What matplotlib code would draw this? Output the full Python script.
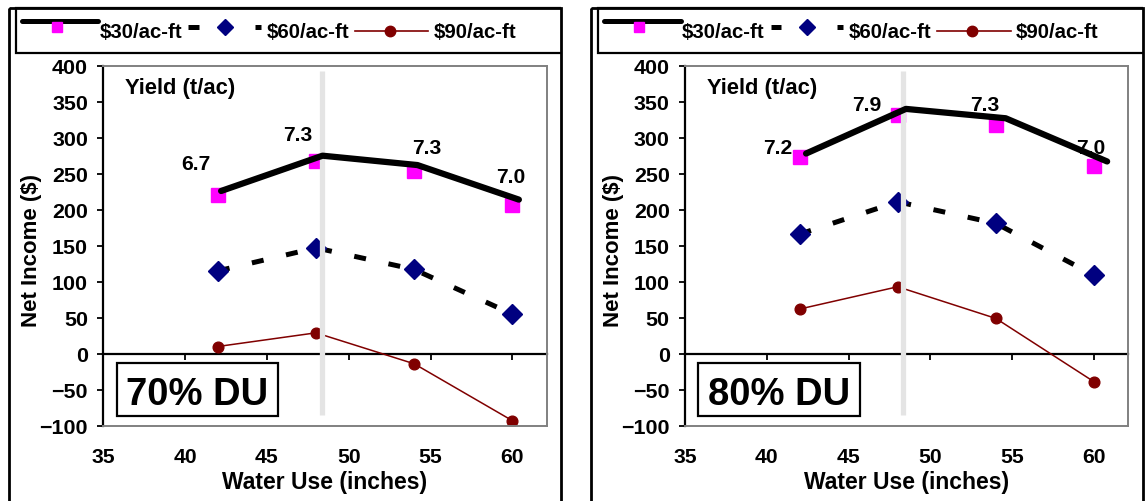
import matplotlib
matplotlib.use('Agg')
import matplotlib.pyplot as plt
from matplotlib.patches import Rectangle
from matplotlib.transforms import Bbox, TransformedBbox

plt.rcParams['font.family'] = ['Liberation Sans', 'DejaVu Sans']
plt.rcParams['font.weight'] = 'bold'

# ---------------- data ----------------
water_use = [42, 48, 54, 60]
series_names = ['$30/ac-ft', '$60/ac-ft', '$90/ac-ft']
x_ticks = [35, 40, 45, 50, 55, 60]
y_ticks = [-100, -50, 0, 50, 100, 150, 200, 250, 300, 350, 400]

# 70% DU panel
du70_label = '70% DU'
du70_n30 = [220, 268, 254, 207]
du70_n60 = [115, 147, 117, 55]
du70_n90 = [10, 29, -14, -93]
du70_line30_x = [42.2, 48.4, 54.2, 60.4]
du70_line30_y = [226, 275, 262, 214]
du70_yield = ['6.7', '7.3', '7.3', '7.0']
du70_yield_x = [40.68, 46.9, 54.75, 59.9]
du70_yield_y = [264, 304, 286, 246]

# 80% DU panel
du80_label = '80% DU'
du80_n30 = [273, 331, 318, 261]
du80_n60 = [166, 211, 181, 109]
du80_n90 = [62, 93, 49, -39]
du80_line30_x = [42.4, 48.5, 54.6, 60.8]
du80_line30_y = [278, 340, 327, 267]
du80_yield = ['7.2', '7.9', '7.3', '7.0']
du80_yield_x = [40.69, 46.13, 53.34, 59.8]
du80_yield_y = [287, 346, 346, 286]

# vertical reference bar
ref_x = 48.35
ref_y = [-85, 393]

W, H = 1146, 502
fig = plt.figure(figsize=(W / 100, H / 100), dpi=100)
fig.patch.set_facecolor('white')

ov = fig.add_axes([0, 0, 1, 1], zorder=0)
ov.set_xlim(0, W)
ov.set_ylim(H, 0)
ov.axis('off')

PINK = '#FF00FF'
NAVY = '#000080'
MAROON = '#800000'
GREY = '#808080'


def draw_panel(ax_left_px, dx, label, n30, n60, n90, lx, ly, ylab, ylx, yly):
    ax = fig.add_axes([ax_left_px / W, (H - 426.7) / H, 443.4 / W, 360 / H], zorder=2)
    ax.set_xlim(35, 62.1)
    ax.set_ylim(-100, 400)
    ax.set_facecolor('none')
    for s in ['top', 'right', 'bottom']:
        ax.spines[s].set_color(GREY)
        ax.spines[s].set_linewidth(1.4)
    ax.spines['left'].set_color('black')
    ax.spines['left'].set_linewidth(1.6)
    ax.set_yticks(y_ticks)
    ax.set_xticks(x_ticks)
    ax.tick_params(axis='y', direction='out', length=4.5, width=1.3, pad=6.5,
                   labelsize=15.4, colors='black')
    ax.tick_params(axis='x', length=0, pad=15, labelsize=15.2)
    for t in ax.get_xticklabels() + ax.get_yticklabels():
        t.set_fontweight('bold')

    # zero axis line with ticks
    zero_frac = (0 - (-100)) / 500
    sec = ax.secondary_xaxis(zero_frac)
    sec.set_xticks(x_ticks)
    sec.spines['bottom'].set_color('black')
    sec.spines['bottom'].set_linewidth(1.6)
    sec.tick_params(axis='x', direction='out', length=4.5, width=1.3, labelbottom=False)

    ax.plot(water_use, n90, color=MAROON, lw=1.1, marker='o', ms=7.7, zorder=2)
    ax.plot(water_use, n60, color='black', lw=3.6, dashes=(2.4, 4.6), zorder=3)
    ax.plot(water_use, n60, ls='none', marker='D', color=NAVY, ms=10.5, zorder=4)
    ax.plot(water_use, n30, ls='none', marker='s', mfc=PINK, mec=PINK, ms=10.5, zorder=4)
    ax.plot([ref_x, ref_x], ref_y, color='#E4E4E4', lw=3.8, solid_capstyle='butt', zorder=5)
    ax.plot(lx, ly, color='black', lw=4.5, solid_capstyle='round', zorder=6)

    for s, xx, yy in zip(ylab, ylx, yly):
        ax.text(xx, yy, s, ha='center', va='center', fontsize=15.2, fontweight='bold', zorder=7)
    ax.text(39.7, 370, 'Yield (t/ac)', ha='center', va='center', fontsize=15.8, fontweight='bold')

    # DU box
    ax.add_patch(Rectangle((0.0302, 0.0278), 0.3645, 0.1455, transform=ax.transAxes,
                           fill=False, edgecolor='black', lw=1.6, zorder=7))
    ax.text(0.2125, 0.0603, label, transform=ax.transAxes, ha='center', va='baseline',
            fontsize=27.5, fontweight='bold', zorder=8)

    ax.text(-0.1615, 0.49, 'Net Income ($)', transform=ax.transAxes, rotation=90,
            ha='center', va='center', fontsize=16, fontweight='bold')
    ax.text(0.5, -0.155, 'Water Use (inches)', transform=ax.transAxes,
            ha='center', va='center', fontsize=16.5, fontweight='bold')

    # panel frame and legend (pixel coords on overlay)
    fx0, fx1 = 8.5 + dx, 561 + dx
    clip = TransformedBbox(Bbox([[fx0, 0], [fx1, H + 50]]), ov.transData)
    arts = []
    arts.append(ov.add_patch(Rectangle((16 + dx, 9), 620, 45, fill=True, facecolor='white',
                                       edgecolor='black', lw=1.6)))
    arts += ov.plot([21.7 + dx, 98.3 + dx], [22.2, 22.2], color='black', lw=3.6,
                    solid_capstyle='round')
    arts += ov.plot([56.7 + dx], [28], ls='none', marker='s', mfc=PINK, mec=PINK, ms=7.2)
    arts += ov.plot([188.3 + dx, 199 + dx], [28.3, 28.3], color='black', lw=3.6,
                    solid_capstyle='butt')
    arts += ov.plot([225 + dx], [28.3], ls='none', marker='D', color=NAVY, ms=8)
    arts += ov.plot([255 + dx, 260.7 + dx], [28.3, 28.3], color='black', lw=3.6,
                    solid_capstyle='butt')
    arts += ov.plot([355 + dx, 428.3 + dx], [31.7, 31.7], color=MAROON, lw=1.2)
    arts += ov.plot([390 + dx], [31.7], ls='none', marker='o', color=MAROON, ms=7.5)
    for name, tx in zip(series_names, [99.3, 266.7, 433.3]):
        arts.append(ov.text(tx + dx, 37.5, name, ha='left', va='baseline', fontsize=14.7,
                            fontweight='bold'))
    for a in arts:
        a.set_clip_box(clip)
        a.set_clip_on(True)
    ov.add_patch(Rectangle((fx0, 9), fx1 - fx0, 600, fill=False, edgecolor='black', lw=2,
                           clip_on=False))
    return ax


draw_panel(103.3, 0, du70_label, du70_n30, du70_n60, du70_n90,
           du70_line30_x, du70_line30_y, du70_yield, du70_yield_x, du70_yield_y)
draw_panel(685, 582.2, du80_label, du80_n30, du80_n60, du80_n90,
           du80_line30_x, du80_line30_y, du80_yield, du80_yield_x, du80_yield_y)

fig.savefig('out.png', dpi=100, facecolor='white')
